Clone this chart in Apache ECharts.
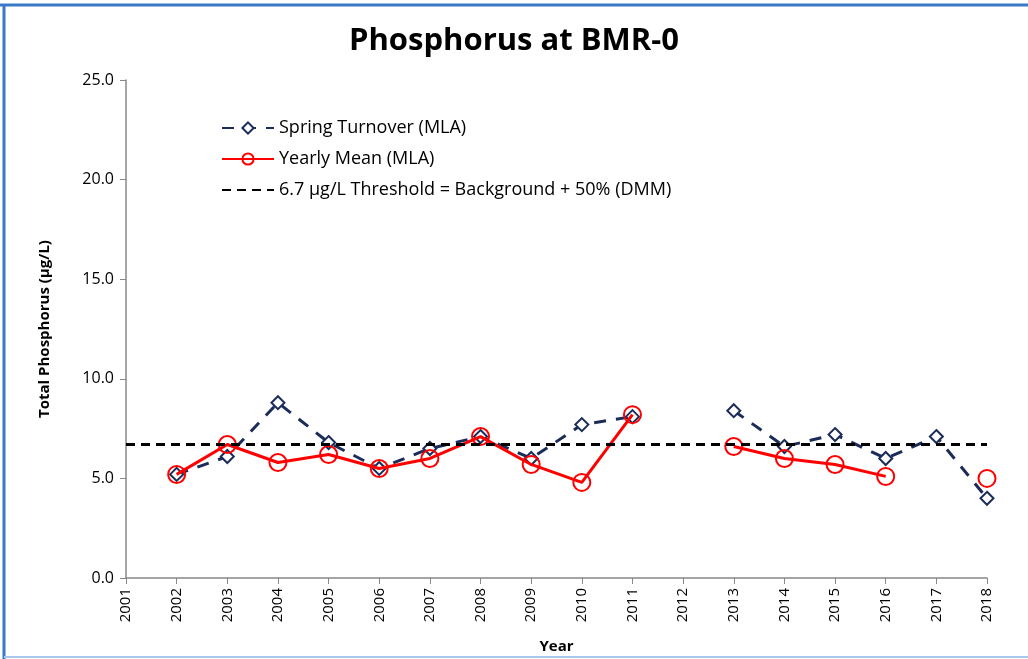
<!DOCTYPE html>
<html>
<head>
<meta charset="utf-8">
<script src="https://cdn.jsdelivr.net/npm/echarts@6/dist/echarts.min.js"></script>
<style>
  html, body { margin: 0; padding: 0; background: #fff; }
  #chart { width: 1028px; height: 659px; }
</style>
</head>
<body>
<div id="chart"></div>
<script>
// 数据
var years = ['2001','2002','2003','2004','2005','2006','2007','2008','2009',
             '2010','2011','2012','2013','2014','2015','2016','2017','2018'];
var springTurnover = [null, 5.2, 6.1, 8.8, 6.8, 5.5, 6.5, 7.1, 6.0,
                      7.7, 8.1, null, 8.4, 6.6, 7.2, 6.0, 7.1, 4.0];
var yearlyMean = [null, 5.2, 6.7, 5.8, 6.2, 5.5, 6.0, 7.1, 5.7,
                  4.8, 8.2, null, 6.6, 6.0, 5.7, 5.1, null, 5.0];
var thresholdValue = 6.7;
var yTicks = ['0.0', '5.0', '10.0', '15.0', '20.0', '25.0'];

var thresholdName = '6.7 µg/L Threshold = Background + 50% (DMM)';

var myChart = echarts.init(document.getElementById('chart'));

var option = {
  backgroundColor: '#fff',
  animation: false,
  title: {
    text: 'Phosphorus at BMR-0',
    left: 'center',
    top: 21,
    textStyle: { fontFamily: 'Open Sans', fontSize: 31, fontWeight: 'bold', color: '#000' }
  },
  graphic: [
    { type: 'line', shape: { x1: 0, y1: 5, x2: 1028, y2: 5 }, style: { stroke: '#3a78c8', lineWidth: 3 } },
    { type: 'line', shape: { x1: 4, y1: 5, x2: 4, y2: 659 }, style: { stroke: '#3a78c8', lineWidth: 3 } },
    { type: 'line', shape: { x1: 4, y1: 657, x2: 1028, y2: 657 }, style: { stroke: '#a9c8ee', lineWidth: 2 } }
  ],
  legend: {
    orient: 'vertical',
    left: 216,
    top: 114,
    itemWidth: 52,
    itemHeight: 14,
    itemGap: 13,
    textStyle: { fontFamily: 'Open Sans', fontSize: 18, color: '#000' },
    data: [
      'Spring Turnover (MLA)',
      'Yearly Mean (MLA)',
      { name: thresholdName, itemStyle: { opacity: 0 } }
    ]
  },
  grid: { left: 126, right: 41, top: 80, bottom: 80 },
  xAxis: {
    type: 'category',
    data: years,
    boundaryGap: false,
    name: 'Year',
    nameLocation: 'middle',
    nameGap: 61,
    nameTextStyle: { fontFamily: 'Open Sans', fontSize: 15, fontWeight: 'bold', color: '#000' },
    axisLine: { lineStyle: { color: '#888', width: 1.5 } },
    axisTick: { alignWithLabel: true, length: 6, lineStyle: { color: '#888' } },
    axisLabel: { rotate: 90, fontFamily: 'Open Sans', fontSize: 15, color: '#000', margin: 10 }
  },
  yAxis: {
    type: 'value',
    min: 0,
    max: 25,
    interval: 5,
    name: 'Total Phosphorus (µg/L)',
    nameLocation: 'middle',
    nameGap: 74,
    nameTextStyle: { fontFamily: 'Open Sans', fontSize: 15, fontWeight: 'bold', color: '#000' },
    splitLine: { show: false },
    axisLine: { show: true, lineStyle: { color: '#888', width: 1.5 } },
    axisTick: { show: true, length: 6, lineStyle: { color: '#888' } },
    axisLabel: {
      fontFamily: 'Open Sans', fontSize: 16, color: '#000', margin: 12,
      formatter: function (v) { return yTicks[Math.round(v / 5)]; }
    }
  },
  series: [
    {
      name: 'Spring Turnover (MLA)',
      type: 'line',
      data: springTurnover,
      symbol: 'diamond',
      symbolSize: 13,
      z: 2,
      itemStyle: { color: '#fff', borderColor: '#1c2c5a', borderWidth: 2 },
      lineStyle: { color: '#1c2c5a', width: 3, type: [12, 10] }
    },
    {
      name: 'Yearly Mean (MLA)',
      type: 'line',
      data: yearlyMean,
      symbol: 'circle',
      symbolSize: 17,
      z: 3,
      itemStyle: { color: 'rgba(255,255,255,0)', borderColor: '#ff0000', borderWidth: 2 },
      lineStyle: { color: '#ff0000', width: 3 }
    },
    {
      name: thresholdName,
      type: 'line',
      data: [],
      symbol: 'none',
      symbolSize: 0,
      z: 4,
      itemStyle: { color: '#000' },
      lineStyle: { color: '#000', width: 3, type: [9, 6] },
      markLine: {
        silent: true,
        symbol: 'none',
        label: { show: false },
        lineStyle: { color: '#000', width: 3, type: [9, 6] },
        data: [{ yAxis: thresholdValue }]
      }
    }
  ]
};

myChart.setOption(option);
</script>
</body>
</html>
